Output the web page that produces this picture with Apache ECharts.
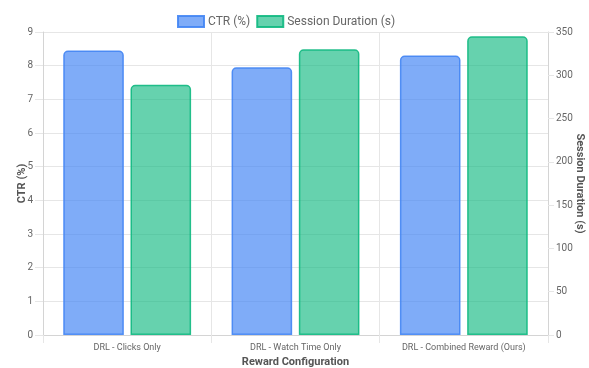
<!DOCTYPE html>
<html>
<head>
<meta charset="utf-8">
<script src="https://cdn.jsdelivr.net/npm/echarts@6/dist/echarts.min.js"></script>
<style>
  html, body { margin: 0; padding: 0; background: #fff; width: 100%; height: 100%; overflow: hidden; }
  #chart { width: 100vw; height: 100vh; }
</style>
</head>
<body>
<div id="chart"></div>
<script>
// Reward configurations compared
const categories = ['DRL - Clicks Only', 'DRL - Watch Time Only', 'DRL - Combined Reward (Ours)'];
// Click-through rate, percent
const ctrValues = [8.45, 7.95, 8.3];
// Average session duration, seconds
const sessionValues = [289, 330, 345];

const FONT = 'Roboto, "Liberation Sans", Arial, sans-serif';
const gridColor = '#e6e6e6';
const axisColor = '#d4d4d4';
const tickText = '#666';

const chart = echarts.init(document.getElementById('chart'), null, { renderer: 'canvas' });

chart.setOption({
  animation: false,
  textStyle: { fontFamily: FONT },
  legend: {
    top: 15,
    left: 177,
    itemWidth: 26,
    itemHeight: 11,
    itemGap: 6,
    icon: 'rect',
    padding: 0,
    textStyle: { color: '#666', fontSize: 12, fontFamily: FONT, padding: [0, 0, 0, -1] },
    data: ['CTR (%)', 'Session Duration (s)']
  },
  grid: { left: 43, right: 41, top: 32, bottom: 33, containLabel: false, outerBoundsMode: 'none' },
  xAxis: {
    type: 'category',
    data: categories,
    name: 'Reward Configuration',
    nameLocation: 'middle',
    nameGap: 22,
    nameMoveOverlap: false,
    nameTextStyle: { color: '#555', fontSize: 11, fontWeight: 'bold', fontFamily: FONT },
    axisLine: { show: true, lineStyle: { color: axisColor } },
    axisTick: { show: true, length: 8, lineStyle: { color: gridColor } },
    axisLabel: { color: tickText, fontSize: 9, margin: 8, fontFamily: FONT },
    splitLine: { show: true, lineStyle: { color: gridColor } }
  },
  yAxis: [
    {
      type: 'value',
      min: 0, max: 9, interval: 1,
      position: 'left',
      name: 'CTR (%)',
      nameLocation: 'middle',
      nameRotate: 90,
      nameGap: 15,
      nameMoveOverlap: false,
      nameTextStyle: { color: '#555', fontSize: 11, fontWeight: 'bold', fontFamily: FONT },
      axisLine: { show: true, lineStyle: { color: axisColor } },
      axisTick: { show: true, length: 8, lineStyle: { color: gridColor } },
      axisLabel: { color: tickText, fontSize: 10, margin: 10, fontFamily: FONT },
      splitLine: { show: true, lineStyle: { color: gridColor } }
    },
    {
      type: 'value',
      min: 0, max: 350, interval: 50,
      position: 'right',
      name: 'Session Duration (s)',
      nameLocation: 'middle',
      nameRotate: -90,
      nameGap: 26,
      nameMoveOverlap: false,
      nameTextStyle: { color: '#555', fontSize: 11, fontWeight: 'bold', fontFamily: FONT },
      axisLine: { show: true, lineStyle: { color: axisColor } },
      axisTick: { show: true, length: 6, lineStyle: { color: gridColor } },
      axisLabel: { color: tickText, fontSize: 10, margin: 8, fontFamily: FONT },
      splitLine: { show: false }
    }
  ],
  series: [
    {
      name: 'CTR (%)',
      type: 'bar',
      yAxisIndex: 0,
      data: ctrValues,
      barWidth: '36%',
      barGap: '11%',
      itemStyle: {
        color: 'rgba(66,133,244,0.68)',
        borderColor: 'rgba(66,133,244,0.9)',
        borderWidth: 1.5,
        borderRadius: [4, 4, 0, 0]
      }
    },
    {
      name: 'Session Duration (s)',
      type: 'bar',
      yAxisIndex: 1,
      data: sessionValues,
      barWidth: '36%',
      barGap: '11%',
      itemStyle: {
        color: 'rgba(16,185,129,0.64)',
        borderColor: 'rgba(16,185,129,0.9)',
        borderWidth: 1.5,
        borderRadius: [4, 4, 0, 0]
      }
    }
  ]
});
window.addEventListener('resize', () => chart.resize());
</script>
</body>
</html>
